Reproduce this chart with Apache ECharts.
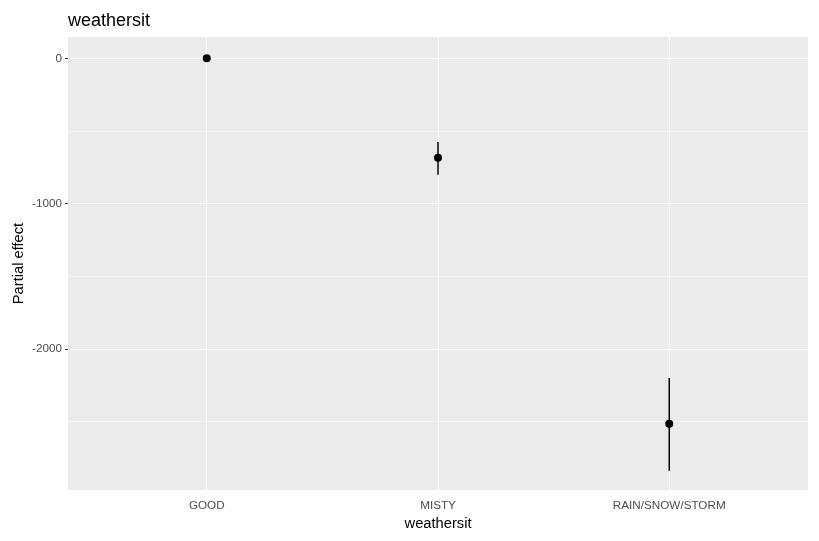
<!DOCTYPE html>
<html><head><meta charset="utf-8">
<script src="https://cdn.jsdelivr.net/npm/echarts@6/dist/echarts.min.js"></script>
<style>html,body{margin:0;padding:0;background:#fff}#c{width:819px;height:541px}</style>
</head><body><div id="c"></div>
<script>
const categories = ['GOOD', 'MISTY', 'RAIN/SNOW/STORM'];
const effect = [0, -684, -2515];
const lower = [0, -801, -2838];
const upper = [0, -576, -2200];
const yTicks = [0, -1000, -2000];
const yMinor = [-500, -1500, -2500];

const catPos = categories.map((c, i) => i + 1);
const font = 'Liberation Sans, Arial, sans-serif';

const chart = echarts.init(document.getElementById('c'), null, {renderer: 'canvas'});
chart.setOption({
  animation: false,
  backgroundColor: '#fff',
  title: {
    text: 'weathersit', left: 68, top: 12, padding: 0,
    textStyle: {fontFamily: font, fontSize: 18, fontWeight: 'normal', color: '#000'}
  },
  grid: {left: 68, top: 37, width: 740, height: 453, show: true, backgroundColor: '#EBEBEB', borderWidth: 0, containLabel: false, outerBoundsMode: 'none'},
  xAxis: {
    type: 'value', min: 0.4, max: 3.6,
    name: 'weathersit', nameLocation: 'middle', nameGap: 26, nameMoveOverlap: false,
    nameTextStyle: {fontFamily: font, fontSize: 14.7, color: '#000'},
    axisLine: {show: false},
    axisTick: {show: true, length: 3, lineStyle: {color: '#333', width: 1}, customValues: catPos},
    axisLabel: {show: true, margin: 10, fontFamily: font, fontSize: 11.7, color: '#4D4D4D', customValues: catPos,
      formatter: v => categories[Math.round(v) - 1] || ''},
    splitLine: {show: false}
  },
  yAxis: {
    type: 'value', min: -2971, max: 147,
    name: 'Partial effect', nameLocation: 'middle', nameGap: 42, nameMoveOverlap: false,
    nameTextStyle: {fontFamily: font, fontSize: 14.7, color: '#000'},
    axisLine: {show: false},
    axisTick: {show: true, length: 3, lineStyle: {color: '#333', width: 1}, customValues: yTicks},
    axisLabel: {show: true, margin: 6, fontFamily: font, fontSize: 11.7, color: '#4D4D4D', customValues: yTicks,
      formatter: v => String(v)},
    splitLine: {show: false}
  },
  series: [
    {
      type: 'line', data: [], silent: true, z: 1,
      markLine: {
        silent: true, symbol: 'none', label: {show: false},
        data: [
          ...yMinor.map(v => ({yAxis: v, lineStyle: {color: '#fff', width: 0.6, type: 'solid'}})),
          ...yTicks.map(v => ({yAxis: v, lineStyle: {color: '#fff', width: 1.1, type: 'solid'}})),
          ...catPos.map(v => ({xAxis: v, lineStyle: {color: '#fff', width: 1.1, type: 'solid'}}))
        ]
      }
    },
    {
      type: 'custom', silent: true, z: 10,
      data: catPos.map((x, i) => [x, lower[i], upper[i]]),
      renderItem: (params, api) => {
        const a = api.coord([api.value(0), api.value(1)]);
        const b = api.coord([api.value(0), api.value(2)]);
        return {type: 'line', shape: {x1: a[0], y1: a[1], x2: b[0], y2: b[1]}, style: {stroke: '#000', lineWidth: 1.5}, z2: 10};
      }
    },
    {
      type: 'scatter', silent: true, symbol: 'circle', symbolSize: 8, z: 11,
      itemStyle: {color: '#000', opacity: 1},
      data: catPos.map((x, i) => [x, effect[i]])
    }
  ]
});
</script></body></html>
